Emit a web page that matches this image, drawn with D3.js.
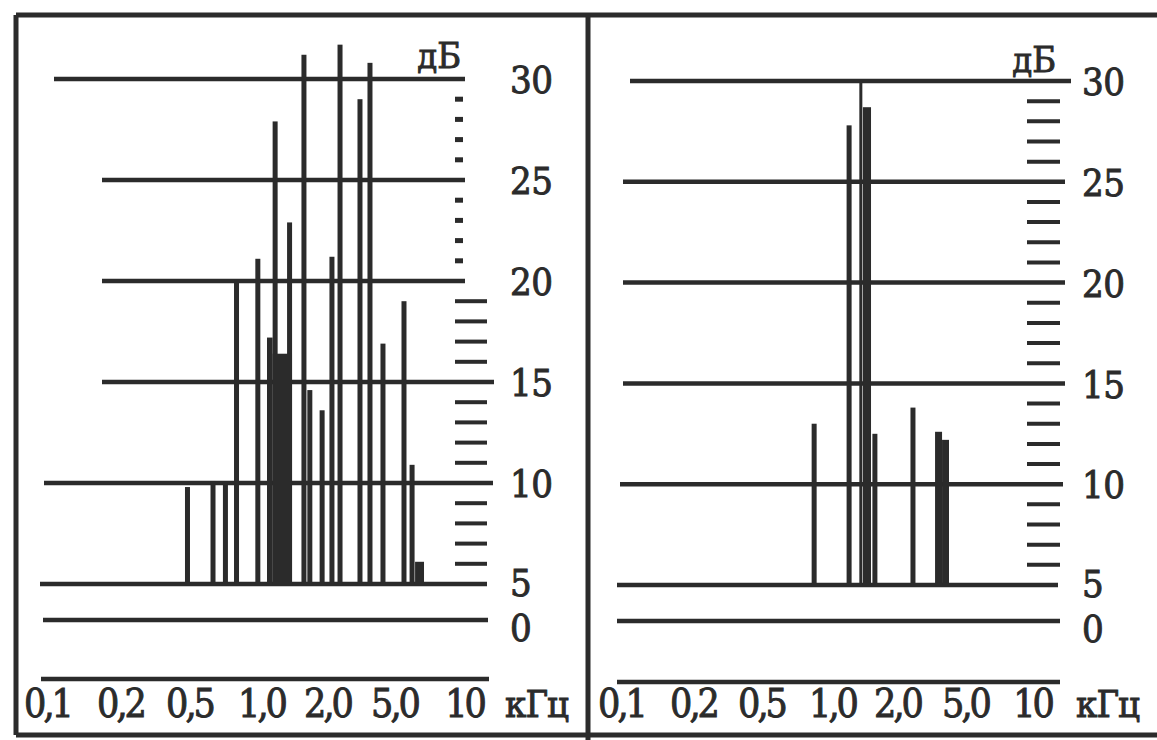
<!DOCTYPE html>
<html>
<head>
<meta charset="utf-8">
<script src="https://cdn.jsdelivr.net/npm/d3@7"></script>
<style>
    body { margin: 0; background: #fff; }
    svg { display: block; }
    text { font-family: "DejaVu Serif", "Liberation Serif", serif; font-stretch: condensed; fill: #2b2b2b; stroke: #2b2b2b; stroke-width: 0.9px; }
</style>
</head>
<body>
<svg></svg>
<script>
//Axis ticks: frequency in kHz and level in dB
let freqTicks  = [0.1, 0.2, 0.5, 1, 2, 5, 10]
let freqLabels = ['0,1', '0,2', '0,5', '1,0', '2,0', '5,0', '10']
let dbTicks    = [0, 5, 10, 15, 20, 25, 30]
let dbLabels   = ['0', '5', '10', '15', '20', '25', '30']

//Small 1 dB marks on the right side of each scale
let leftDotsDb    = [21, 22, 23, 24, 26, 27, 28, 29]
let leftDashesDb  = [6, 7, 8, 9, 11, 12, 13, 14, 16, 17, 18, 19]
let rightDashesDb = [6, 7, 8, 9, 11, 12, 13, 14, 16, 17, 18, 19, 21, 22, 23, 24, 26, 27, 28, 29]

//Left spectrum: single lines (kHz, dB)
let leftFreq = [0.49, 0.63, 0.71, 0.79, 0.97, 1.16, 1.35, 1.57, 1.67, 1.90, 2.14, 2.39, 3.14, 3.60, 4.30, 5.52, 5.98]
let leftDb   = [9.8, 10.1, 10.0, 20.0, 21.1, 27.9, 22.9, 31.2, 14.6, 13.6, 21.2, 31.7, 29.0, 30.8, 16.9, 19.0, 10.9]
//Left spectrum: dense groups drawn as solid bands
let leftBandFrom = [1.065, 1.13, 6.16]
let leftBandTo   = [1.13, 1.385, 6.73]
let leftBandDb   = [17.2, 16.4, 6.1]

//Right spectrum
let rightFreq     = [0.84, 1.20, 1.58, 2.48]
let rightDb       = [13.0, 27.8, 12.5, 13.8]
let rightThinFreq = [1.36]
let rightThinDb   = [30.0]
let rightBandFrom = [1.39, 3.34, 3.67]
let rightBandTo   = [1.516, 3.67, 4.03]
let rightBandDb   = [28.7, 12.6, 12.2]

let width = 1157
let height = 740
let ink = '#2b2b2b'
let fontStack = '"DejaVu Serif", "Liberation Serif", serif'

let svg = d3.select('svg')
    .attr('width', width)
    .attr('height', height)

//frame
let frame = [
    [16, 15, width, 15],
    [16, 15, 16, 735],
    [588, 15, 588, height],
    [16, 735, width, 735]
]
svg.append('g')
    .selectAll('line')
    .data(frame)
    .enter()
    .append('line')
    .attr('x1', d => d[0]).attr('y1', d => d[1])
    .attr('x2', d => d[2]).attr('y2', d => d[3])
    .attr('stroke', ink)
    .attr('stroke-width', 5)

let panels = [
    {
        ticksX: [47, 120, 189, 261, 327, 394, 464],
        yRange: [620, 584, 79],
        grid: {0: [43, 488], 5: [40, 487], 10: [44, 493], 15: [102, 494], 20: [102, 465], 25: [102, 465], 30: [54, 465]},
        baseY: 679, baseX: [41, 489],
        labelX: 510, dbUnit: [461, 68], hzUnit: [505, 717],
        minor: [{db: leftDotsDb, x: [455, 463], w: 5}, {db: leftDashesDb, x: [455, 487], w: 4}],
        freq: leftFreq, db: leftDb,
        thinFreq: [], thinDb: [],
        bandFrom: leftBandFrom, bandTo: leftBandTo, bandDb: leftBandDb
    },
    {
        ticksX: [621, 693, 761, 832, 897, 965, 1032],
        yRange: [621, 585, 81],
        grid: {0: [617, 1060], 5: [617, 1058], 10: [620, 1063], 15: [623, 1065], 20: [623, 1065], 25: [623, 1065], 30: [630, 1071]},
        baseY: 682, baseX: [617, 1060],
        labelX: 1082, dbUnit: [1056, 72], hzUnit: [1076, 717],
        minor: [{db: rightDashesDb, x: [1027, 1060], w: 4}],
        freq: rightFreq, db: rightDb,
        thinFreq: rightThinFreq, thinDb: rightThinDb,
        bandFrom: rightBandFrom, bandTo: rightBandTo, bandDb: rightBandDb
    }
]

let drawPanel = (p) => {
    let g = svg.append('g')

    //log frequency, drawn with even steps between the labelled values
    let xScale = d3.scaleLog()
                    .domain(freqTicks)
                    .range(p.ticksX)
    //level: 0..5 compressed, 5..30 linear
    let yScale = d3.scaleLinear()
                    .domain([0, 5, 30])
                    .range(p.yRange)

    //level lines
    g.selectAll('line.grid')
        .data(dbTicks)
        .enter()
        .append('line')
        .attr('class', 'grid')
        .attr('x1', d => p.grid[d][0])
        .attr('x2', d => p.grid[d][1])
        .attr('y1', d => yScale(d))
        .attr('y2', d => yScale(d))
        .attr('stroke', ink)
        .attr('stroke-width', 4.5)

    //1 dB marks
    p.minor.forEach(m => {
        g.selectAll(null)
            .data(m.db)
            .enter()
            .append('line')
            .attr('x1', m.x[0])
            .attr('x2', m.x[1])
            .attr('y1', d => yScale(d))
            .attr('y2', d => yScale(d))
            .attr('stroke', ink)
            .attr('stroke-width', m.w)
    })

    //spectral lines
    let bars = p.freq.map((f, i) => [f, p.db[i]])
    g.selectAll('rect.bar')
        .data(bars)
        .enter()
        .append('rect')
        .attr('class', 'bar')
        .attr('x', d => xScale(d[0]) - 2.5)
        .attr('width', 5)
        .attr('y', d => yScale(d[1]))
        .attr('height', d => yScale(5) - yScale(d[1]))
        .attr('fill', ink)

    let thin = p.thinFreq.map((f, i) => [f, p.thinDb[i]])
    g.selectAll('rect.thin')
        .data(thin)
        .enter()
        .append('rect')
        .attr('class', 'thin')
        .attr('x', d => xScale(d[0]) - 1.5)
        .attr('width', 3)
        .attr('y', d => yScale(d[1]))
        .attr('height', d => yScale(5) - yScale(d[1]))
        .attr('fill', ink)

    let bands = p.bandFrom.map((f, i) => [f, p.bandTo[i], p.bandDb[i]])
    g.selectAll('rect.band')
        .data(bands)
        .enter()
        .append('rect')
        .attr('class', 'band')
        .attr('x', d => xScale(d[0]))
        .attr('width', d => xScale(d[1]) - xScale(d[0]))
        .attr('y', d => yScale(d[2]))
        .attr('height', d => yScale(5) - yScale(d[2]))
        .attr('fill', ink)

    //bottom frequency line
    g.append('line')
        .attr('x1', p.baseX[0]).attr('x2', p.baseX[1])
        .attr('y1', p.baseY).attr('y2', p.baseY)
        .attr('stroke', ink)
        .attr('stroke-width', 4.5)

    //frequency labels
    let xAxis = d3.axisBottom(xScale)
                    .tickValues(freqTicks)
                    .tickFormat((d, i) => freqLabels[i])
                    .tickSize(0)
    let xg = g.append('g')
        .attr('transform', 'translate(0, ' + p.hzUnit[1] + ')')
        .call(xAxis)
    xg.attr('font-family', fontStack)
    xg.select('.domain').remove()
    xg.selectAll('text')
        .attr('y', 0)
        .attr('dy', 0)
        .attr('font-size', 39)
        .attr('letter-spacing', -3)
        .attr('fill', ink)

    //level labels; 5 and 0 sit very close, so nudge them apart a little
    let yAxis = d3.axisRight(yScale)
                    .tickValues(dbTicks)
                    .tickFormat((d, i) => dbLabels[i])
                    .tickSize(0)
                    .tickPadding(0)
    let yg = g.append('g')
        .attr('transform', 'translate(' + p.labelX + ', 0)')
        .call(yAxis)
    yg.attr('font-family', fontStack)
    yg.select('.domain').remove()
    yg.selectAll('text')
        .attr('dy', d => d === 5 ? '0.31em' : (d === 0 ? '0.53em' : '0.36em'))
        .attr('font-size', 38)
        .attr('letter-spacing', -0.5)
        .attr('fill', ink)

    //units
    g.append('text')
        .attr('x', p.dbUnit[0])
        .attr('y', p.dbUnit[1])
        .attr('text-anchor', 'end')
        .attr('font-size', 36)
        .text('дБ')
    g.append('text')
        .attr('x', p.hzUnit[0])
        .attr('y', p.hzUnit[1])
        .attr('font-size', 38)
        .attr('letter-spacing', -1)
        .text('кГц')
}

panels.forEach(drawPanel)
</script>
</body>
</html>
